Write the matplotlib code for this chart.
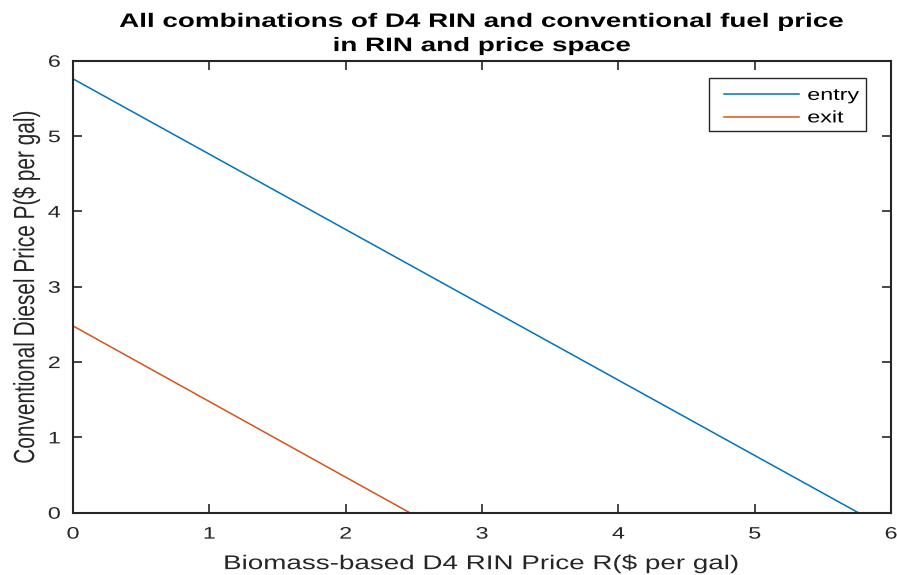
import matplotlib
matplotlib.use("Agg")
import matplotlib.pyplot as plt
import matplotlib.patheffects as pe
from matplotlib.transforms import Affine2D
from matplotlib.patches import Rectangle

plt.rcParams['font.family'] = ['Liberation Sans', 'DejaVu Sans']

# Data: line endpoints (intercepts) in RIN/price space
entry_R = [0.0, 5.76]
entry_P = [5.76, 0.0]
exit_R = [0.0, 2.47]
exit_P = [2.48, 0.0]
xticks = [0, 1, 2, 3, 4, 5, 6]
yticks = [0, 1, 2, 3, 4, 5, 6]
series_labels = ['entry', 'exit']

K = 1.40  # horizontal widening of rendered glyphs (reference is stretched in x)


class HStretch(pe.AbstractPathEffect):
    def __init__(self, k, anchor='center'):
        super().__init__()
        self.k = k
        self.anchor = anchor

    def draw_path(self, renderer, gc, tpath, affine, rgbFace=None):
        bb = tpath.get_extents(affine)
        if self.anchor == 'center':
            cx = (bb.x0 + bb.x1) / 2
        elif self.anchor == 'right':
            cx = bb.x1
        else:
            cx = bb.x0
        new = affine + Affine2D().translate(-cx, 0).scale(self.k, 1).translate(cx, 0)
        renderer.draw_path(gc, tpath, new, rgbFace)


fig = plt.figure(figsize=(8.97, 5.75), dpi=100)
ax = fig.add_axes([0.0814, 0.1083, 0.912, 0.786])
l1, = ax.plot(entry_R, entry_P, color='#0072BD', lw=1.1)
l2, = ax.plot(exit_R, exit_P, color='#D95319', lw=1.1)
ax.set_xlim(0, 6)
ax.set_ylim(0, 6)
ax.set_xticks(xticks)
ax.set_yticks(yticks)
ax.tick_params(direction='in', top=True, right=True, length=6.5, width=1.2,
               labelsize=12, colors='#262626')
ax.tick_params(axis='x', pad=10)
ax.tick_params(axis='y', pad=9)
for s in ax.spines.values():
    s.set_linewidth(1.5)
    s.set_color('#262626')
for t in ax.get_xticklabels():
    t.set_path_effects([HStretch(K, 'center')])
for t in ax.get_yticklabels():
    t.set_path_effects([HStretch(K, 'right')])

xl = ax.set_xlabel('Biomass-based D4 RIN Price R($ per gal)', fontsize=14.3, color='#262626', labelpad=9)
xl.set_path_effects([HStretch(K, 'center')])
yl = ax.set_ylabel('Conventional Diesel Price P($ per gal)', fontsize=15, color='#262626', labelpad=11)
yl.set_path_effects([HStretch(K, 'center')])
tt = ax.set_title('All combinations of D4 RIN and conventional fuel price\nin RIN and price space',
                  fontsize=14, fontweight='bold', pad=7, linespacing=1.55)
tt.set_path_effects([HStretch(1.43, 'center')])

# legend: manual frame + entries
ax.add_patch(Rectangle((0.7775, 0.8445), 0.1919, 0.1172, transform=ax.transAxes,
                       fill=True, facecolor='white', edgecolor='#262626', lw=1.0, zorder=5))
leg = ax.legend([l1, l2], series_labels, loc='upper left', bbox_to_anchor=(0.796, 0.94),
                fontsize=12, frameon=False, handlelength=4.5, borderpad=0.0,
                borderaxespad=0.0, labelspacing=0.45, handletextpad=0.5)
leg.set_zorder(6)
for t in leg.get_texts():
    t.set_path_effects([HStretch(K, 'left')])

fig.savefig('out.png', dpi=100)
